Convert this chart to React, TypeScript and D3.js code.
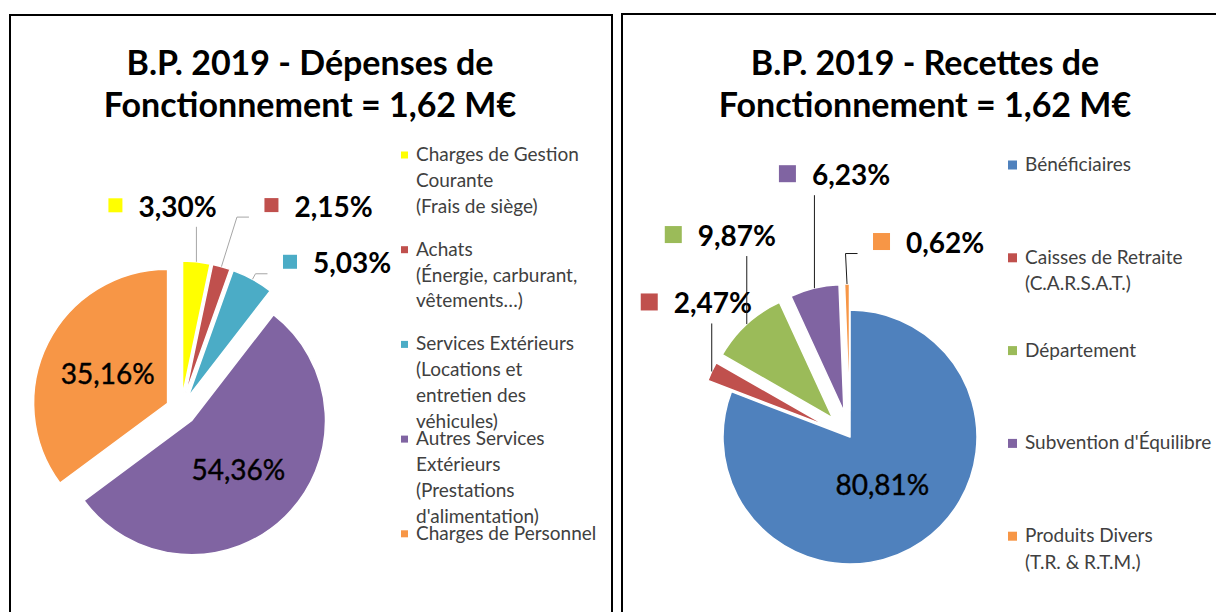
import React from "react";
import * as d3 from "d3";

// ---------- DATA ----------
const depensesTitle = ["B.P. 2019 - Dépenses de", "Fonctionnement = 1,62 M€"];
const depensesLabels = [
  ["Charges de Gestion", "Courante", "(Frais de siège)"],
  ["Achats", "(Énergie, carburant,", "vêtements…)"],
  ["Services Extérieurs", "(Locations et", "entretien des", "véhicules)"],
  ["Autres Services", "Extérieurs", "(Prestations", "d'alimentation)"],
  ["Charges de Personnel"],
];
const depensesValues = [3.3, 2.15, 5.03, 54.36, 35.16];
const depensesColors = ["#FFFF00", "#C0504D", "#4BACC6", "#8064A2", "#F79646"];

const recettesTitle = ["B.P. 2019 - Recettes de", "Fonctionnement = 1,62 M€"];
const recettesLabels = [
  ["Bénéficiaires"],
  ["Caisses de Retraite", "(C.A.R.S.A.T.)"],
  ["Département"],
  ["Subvention d'Équilibre"],
  ["Produits Divers", "(T.R. & R.T.M.)"],
];
const recettesValues = [80.81, 2.47, 9.87, 6.23, 0.62];
const recettesColors = ["#4F81BD", "#C0504D", "#9BBB59", "#8064A2", "#F79646"];

// ---------- FORMAT ----------
const frLocale = d3.formatLocale({
  decimal: ",",
  thousands: " ",
  grouping: [3],
  currency: ["", " €"],
});
const fmt = (v: number) => frLocale.format(".2f")(v) + "%";

const FONT = "Lato, 'Open Sans', sans-serif";

type OutLabel = { i: number; dx: number; dy: number; kind: "v" | "elbow" };

type ChartCfg = {
  title: string[];
  labels: string[][];
  values: number[];
  colors: string[];
  frame: { x: number; y: number; w: number };
  titleX: number;
  cx: number;
  cy: number;
  r: number;
  explode: number[];
  inside: number[];
  insideFrac: number;
  outside: OutLabel[];
  keySize: number;
  leaderColor: string;
  legend: { x: number; y0: number; step: number; lineH: number; key: number };
};

const charts: ChartCfg[] = [
  {
    title: depensesTitle,
    labels: depensesLabels,
    values: depensesValues,
    colors: depensesColors,
    frame: { x: 10, y: 15, w: 602 },
    titleX: 310,
    cx: 181,
    cy: 410,
    r: 134,
    explode: [15, 15, 15, 15, 15],
    inside: [3, 4],
    insideFrac: 0.5,
    outside: [
      { i: 0, dx: -88, dy: -45, kind: "v" },
      { i: 1, dx: 43, dy: -50, kind: "elbow" },
      { i: 2, dx: 30.5, dy: -6, kind: "elbow" },
    ],
    keySize: 14,
    leaderColor: "#a6a6a6",
    legend: { x: 401, y0: 161, step: 94.7, lineH: 25.8, key: 7 },
  },
  {
    title: recettesTitle,
    labels: recettesLabels,
    values: recettesValues,
    colors: recettesColors,
    frame: { x: 622, y: 14, w: 640 },
    titleX: 925,
    cx: 850,
    cy: 437,
    r: 127,
    explode: [0, 26, 26, 26, 26],
    inside: [0],
    insideFrac: 0.45,
    outside: [
      { i: 1, dx: -71, dy: -58, kind: "v" },
      { i: 2, dx: -82, dy: -78, kind: "v" },
      { i: 3, dx: -35.5, dy: -103, kind: "v" },
      { i: 4, dx: 26, dy: -31, kind: "elbow" },
    ],
    keySize: 17,
    leaderColor: "#1a1a1a",
    legend: { x: 1008, y0: 171, step: 92.8, lineH: 26.5, key: 9 },
  },
];

function PieChart({ c }: { c: ChartCfg }) {
  const pie = d3
    .pie<number>()
    .sort(null)
    .value((d) => d)
    .startAngle(0)
    .endAngle(2 * Math.PI);
  const arcs = pie(c.values);
  const arcGen = d3.arc<d3.PieArcDatum<number>>().innerRadius(0).outerRadius(c.r);
  const mid = (a: d3.PieArcDatum<number>) => (a.startAngle + a.endAngle) / 2;
  const dir = (ang: number) => [Math.sin(ang), -Math.cos(ang)];

  return (
    <g>
      <rect
        x={c.frame.x}
        y={c.frame.y}
        width={c.frame.w}
        height={700}
        fill="#fff"
        stroke="#000"
        strokeWidth={2}
      />
      {c.title.map((t, k) => (
        <text
          key={k}
          x={c.titleX}
          y={75 + k * 42}
          textAnchor="middle"
          fontFamily={FONT}
          fontWeight={700}
          fontSize={34}
          fill="#000"
        >
          {t}
        </text>
      ))}
      {arcs.map((a, i) => {
        const [ux, uy] = dir(mid(a));
        const e = c.explode[i];
        return (
          <path
            key={i}
            d={arcGen(a) || ""}
            transform={`translate(${c.cx + ux * e},${c.cy + uy * e})`}
            fill={c.colors[i]}
            stroke="#fff"
            strokeWidth={1.5}
            strokeLinejoin="round"
          />
        );
      })}
      {c.inside.map((i) => {
        const a = arcs[i];
        const [ux, uy] = dir(mid(a));
        const e = c.explode[i];
        const d = e + c.r * c.insideFrac;
        return (
          <text
            key={"in" + i}
            x={c.cx + ux * d}
            y={c.cy + uy * d}
            textAnchor="middle"
            dominantBaseline="central"
            fontFamily={FONT}
            fontSize={28}
            fill="#000"
            stroke="#000"
            strokeWidth={0.4}
          >
            {fmt(c.values[i])}
          </text>
        );
      })}
      {c.outside.map((o) => {
        const a = arcs[o.i];
        const [ux, uy] = dir(mid(a));
        const d = c.explode[o.i] + c.r;
        const px = c.cx + ux * d;
        const py = c.cy + uy * d;
        const sx = px + o.dx;
        const base = py + o.dy;
        let pts: [number, number][];
        if (o.kind === "v") {
          pts = [
            [px, py],
            [px, base + 10],
          ];
        } else {
          const endX = sx - 15.5;
          const ly = base + 0.5;
          pts = [
            [px, py],
            [endX - 12, ly],
            [endX, ly],
          ];
        }
        const ks = c.keySize;
        return (
          <g key={"out" + o.i}>
            <path
              d={d3.line()(pts) || ""}
              fill="none"
              stroke={c.leaderColor}
              strokeWidth={1}
            />
            <rect
              x={sx}
              y={base - 11.5 - ks / 2}
              width={ks}
              height={ks}
              fill={c.colors[o.i]}
            />
            <text
              x={sx + ks + 16}
              y={base}
              fontFamily={FONT}
              fontWeight={700}
              fontSize={28}
              fill="#000"
            >
              {fmt(c.values[o.i])}
            </text>
          </g>
        );
      })}
      {c.labels.map((lines, i) => {
        const by = c.legend.y0 + i * c.legend.step;
        const k = c.legend.key;
        return (
          <g key={"lg" + i}>
            <rect
              x={c.legend.x}
              y={by - 6 - k / 2}
              width={k}
              height={k}
              fill={c.colors[i]}
            />
            {lines.map((ln, j) => (
              <text
                key={j}
                x={c.legend.x + k + 8}
                y={by + j * c.legend.lineH}
                fontFamily={FONT}
                fontSize={19}
                fill="#404040"
              >
                {ln}
              </text>
            ))}
          </g>
        );
      })}
    </g>
  );
}

export default function App() {
  return (
    <svg
      width={1216}
      height={612}
      style={{ position: "absolute", left: 0, top: 0, display: "block", background: "#fff" }}
    >
      <rect x={0} y={0} width={1216} height={612} fill="#fff" />
      {charts.map((c, i) => (
        <PieChart key={i} c={c} />
      ))}
    </svg>
  );
}
